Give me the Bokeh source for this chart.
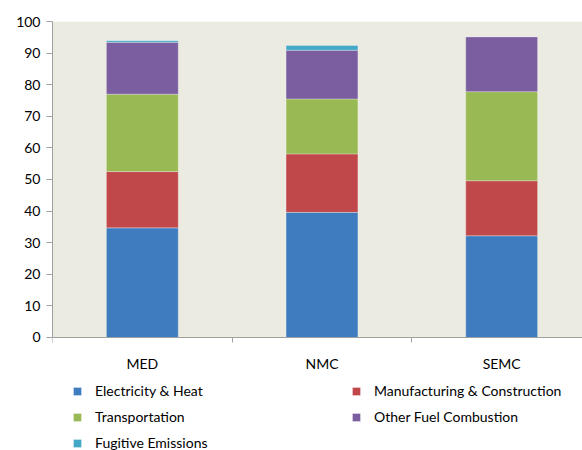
from bokeh.plotting import figure
from bokeh.models import Range1d, FixedTicker, Legend, LegendItem, BoxAnnotation
from bokeh.embed import file_html
from bokeh.resources import INLINE

regions = ["MED", "NMC", "SEMC"]
electricity = [34.7, 39.6, 32.2]
manufacturing = [17.8, 18.5, 17.4]
transportation = [24.5, 17.4, 28.2]
other_fuel = [16.4, 15.4, 17.4]
fugitive = [0.5, 1.5, 0.0]
y_ticks = [0, 10, 20, 30, 40, 50, 60, 70, 80, 90, 100]

series_names = ["Electricity & Heat", "Manufacturing & Construction",
                "Transportation", "Other Fuel Combustion", "Fugitive Emissions"]
series_vals = [electricity, manufacturing, transportation, other_fuel, fugitive]
colors = ["#3F7CBF", "#C0474A", "#98B954", "#7B5EA0", "#43A9C6"]

FONT = "Lato"
FS = "14px"

p = figure(width=582, height=450, output_backend="svg", toolbar_location=None,
           x_range=Range1d(0, 2.95), y_range=Range1d(-35.76, 100),
           min_border_left=52, min_border_top=21, min_border_right=0,
           min_border_bottom=0)
p.background_fill_color = "white"
p.border_fill_color = "white"
p.outline_line_color = None

p.add_layout(BoxAnnotation(bottom=0, top=100, fill_color="#ECEBE1", fill_alpha=1,
                           line_color=None, level="underlay"))

xs = [i + 0.5 for i in range(len(regions))]
data = {"x": xs}
for name, vals in zip(series_names, series_vals):
    data[name] = vals

renderers = p.vbar_stack(series_names, x="x", width=0.4, source=data,
                         fill_color=colors, line_color="white", line_alpha=0.3,
                         line_width=1)

# axes
p.yaxis.ticker = FixedTicker(ticks=y_ticks)
p.yaxis.bounds = (0, 100)
p.yaxis.axis_line_color = "#A0A0A0"
p.yaxis.major_tick_line_color = "#A0A0A0"
p.yaxis.major_tick_out = 6
p.yaxis.major_tick_in = 0
p.yaxis.minor_tick_line_color = None
p.yaxis.major_label_text_font = FONT
p.yaxis.major_label_text_font_size = FS
p.yaxis.major_label_text_color = "#000000"
p.yaxis.major_label_standoff = 6

p.xaxis.fixed_location = 0
p.xaxis.ticker = FixedTicker(ticks=xs, minor_ticks=[0, 1, 2, 3])
p.xaxis.major_label_overrides = {x: r for x, r in zip(xs, regions)}
p.xaxis.axis_line_color = "#A0A0A0"
p.xaxis.major_tick_line_color = None
p.xaxis.minor_tick_line_color = "#A0A0A0"
p.xaxis.minor_tick_out = 5
p.xaxis.minor_tick_in = 0
p.xaxis.major_label_text_font = FONT
p.xaxis.major_label_text_font_size = FS
p.xaxis.major_label_text_color = "#000000"
p.xaxis.major_label_standoff = 12

p.xgrid.grid_line_color = None
p.ygrid.ticker = FixedTicker(ticks=y_ticks[1:])
p.ygrid.grid_line_color = "#A6A6A6"
p.ygrid.grid_line_width = 1.5

def make_legend(idx, loc):
    items = [LegendItem(label=series_names[i], renderers=[renderers[i]]) for i in idx]
    return Legend(items=items, location=loc, orientation="vertical",
                  glyph_width=10, glyph_height=10, label_standoff=13,
                  label_height=16, spacing=9, padding=0, margin=0,
                  border_line_color=None, background_fill_alpha=0,
                  label_text_font=FONT, label_text_font_size=FS,
                  label_text_color="#000000")

p.add_layout(make_legend([0, 2, 4], (20, -1)), "center")
p.add_layout(make_legend([1, 3], (299, 25)), "center")

open("out.html", "w").write(file_html(p, INLINE))
